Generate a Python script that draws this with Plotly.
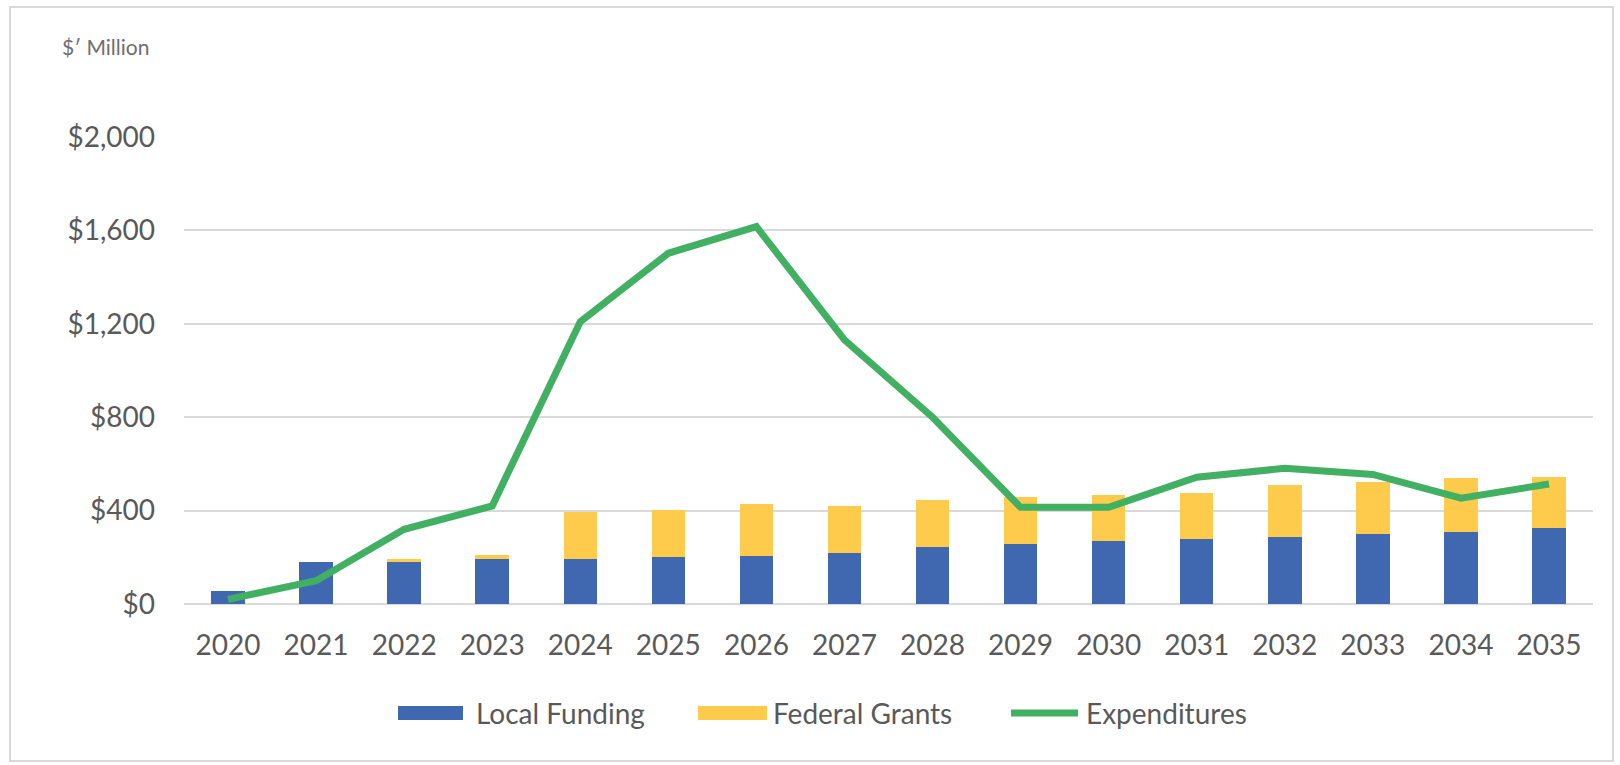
import plotly.graph_objects as go

# ---- data ----
years = ["2020", "2021", "2022", "2023", "2024", "2025", "2026", "2027",
         "2028", "2029", "2030", "2031", "2032", "2033", "2034", "2035"]
local_funding = [56, 179, 179, 193, 193, 200, 207, 220, 243, 257, 271, 280, 287, 301, 308, 324]
federal_grants = [0, 0, 14, 16, 202, 203, 223, 201, 202, 201, 195, 194, 223, 223, 230, 221]
expenditures = [20, 100, 320, 420, 1209, 1502, 1616, 1131, 800, 414, 414, 543, 581, 555, 453, 514]
y_ticks = [0, 400, 800, 1200, 1600, 2000]
y_tick_labels = ["$0", "$400", "$800", "$1,200", "$1,600", "$2,000"]
series_names = ["Local Funding", "Federal Grants", "Expenditures"]

# ---- style ----
W, H = 1620, 765
L, R, T, B = 184, 27, 137, 161
PW, PH = W - L - R, H - T - B
BLUE = "rgb(63,104,177)"
YELLOW = "rgb(255,203,76)"
GREEN = "rgb(66,176,98)"
TXT = "#595959"
GRID = "#d9d9d9"
FONT = "Lato"


def xp(px):
    return (px - L) / PW


def yp(py):
    return (H - B - py) / PH


fig = go.Figure()
fig.add_trace(go.Bar(x=years, y=local_funding, name=series_names[0],
                     marker=dict(color=BLUE, line=dict(width=0))))
fig.add_trace(go.Bar(x=years, y=federal_grants, name=series_names[1],
                     marker=dict(color=YELLOW, line=dict(width=0))))
fig.add_trace(go.Scatter(x=years, y=expenditures, name=series_names[2], mode="lines",
                         line=dict(color=GREEN, width=7)))

shapes = [
    # outer border
    dict(type="rect", xref="paper", yref="paper", x0=xp(10), x1=xp(1613), y0=yp(7), y1=yp(761),
         line=dict(color=GRID, width=2), fillcolor="rgba(0,0,0,0)", layer="below"),
    # custom legend symbols
    dict(type="rect", xref="paper", yref="paper", x0=xp(398), x1=xp(463), y0=yp(706), y1=yp(720),
         line=dict(width=0), fillcolor=BLUE),
    dict(type="rect", xref="paper", yref="paper", x0=xp(698), x1=xp(767), y0=yp(706), y1=yp(720),
         line=dict(width=0), fillcolor=YELLOW),
    dict(type="line", xref="paper", yref="paper", x0=xp(1011), x1=xp(1078), y0=yp(713), y1=yp(713),
         line=dict(color=GREEN, width=7)),
]

annotations = [
    dict(text="$′ Million", xref="paper", yref="paper", x=xp(60), y=yp(46),
         xanchor="left", yanchor="middle", showarrow=False,
         font=dict(family=FONT, size=21, color="#6e6e6e")),
]
for name, px in zip(series_names, [474, 771, 1084]):
    annotations.append(dict(text=name, xref="paper", yref="paper", x=xp(px), y=yp(713),
                            xanchor="left", yanchor="middle", showarrow=False,
                            font=dict(family=FONT, size=28, color=TXT)))

fig.update_layout(
    width=W, height=H, autosize=False,
    margin=dict(l=L, r=R, t=T, b=B, pad=0),
    paper_bgcolor="white", plot_bgcolor="white",
    barmode="stack", bargap=0.62,
    showlegend=False,
    font=dict(family=FONT, color=TXT),
    shapes=shapes, annotations=annotations,
    xaxis=dict(type="category", categoryorder="array", categoryarray=years,
               range=[-0.5, len(years) - 0.5], showgrid=False, showline=False, zeroline=False,
               ticks="", tickfont=dict(family=FONT, size=28, color=TXT), ticklabelstandoff=22),
    yaxis=dict(range=[0, 2000], tickmode="array", tickvals=y_ticks, ticktext=y_tick_labels,
               showgrid=True, gridcolor=GRID, gridwidth=2, zeroline=True, zerolinecolor=GRID,
               zerolinewidth=2, showline=False, ticks="",
               tickfont=dict(family=FONT, size=28, color=TXT), ticklabelstandoff=28),
)

fig.write_html("out.html", config={"displayModeBar": False},
               post_script="document.body.style.margin='0';document.body.style.overflow='hidden';")
